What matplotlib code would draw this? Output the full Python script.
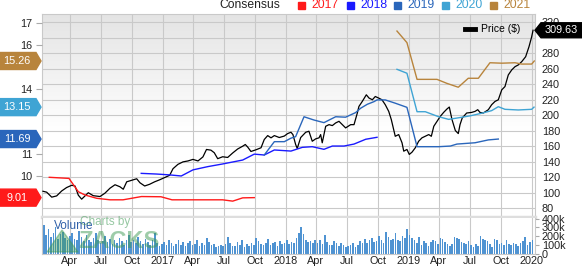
import numpy as np
import pandas as pd
import matplotlib
matplotlib.use('Agg')
import matplotlib.pyplot as plt
import matplotlib.dates as mdates
from matplotlib.patches import Polygon, Rectangle
from matplotlib.lines import Line2D

plt.rcParams['font.family'] = ['Liberation Sans', 'DejaVu Sans']

# time values are years since 2016-01-01
price_t = [0.031, 0.061, 0.102, 0.142, 0.183, 0.223, 0.264, 0.291, 0.318, 0.345,
           0.372, 0.399, 0.439, 0.494, 0.534, 0.575, 0.616, 0.656, 0.683, 0.711,
           0.751, 0.792, 0.819, 0.857, 0.897, 0.938, 0.979, 1.019, 1.060, 1.087,
           1.127, 1.168, 1.209, 1.249, 1.290, 1.330, 1.359, 1.395, 1.422, 1.450,
           1.490, 1.531, 1.572, 1.612, 1.653, 1.674, 1.693, 1.720, 1.761, 1.802,
           1.828, 1.856, 1.883, 1.910, 1.950, 1.991, 2.018, 2.045, 2.061, 2.083,
           2.096, 2.124, 2.165, 2.191, 2.218, 2.246, 2.273, 2.286, 2.299, 2.327,
           2.354, 2.381, 2.408, 2.435, 2.462, 2.489, 2.530, 2.557, 2.584, 2.597,
           2.624, 2.657, 2.679, 2.706, 2.730, 2.757, 2.784, 2.811, 2.839, 2.860,
           2.879, 2.892, 2.920, 2.947, 2.961, 2.987, 3.006, 3.028, 3.055, 3.082,
           3.109, 3.136, 3.164, 3.185, 3.205, 3.231, 3.258, 3.285, 3.312, 3.331,
           3.353, 3.380, 3.404, 3.418, 3.436, 3.472, 3.513, 3.540, 3.562, 3.580,
           3.607, 3.648, 3.675, 3.702, 3.729, 3.757, 3.783, 3.810, 3.838, 3.865,
           3.891, 3.919, 3.951, 3.978, 4.000, 4.011]
price = [102.0, 100.8, 94.4, 96.0, 102.4, 106.8, 109.7, 108.8, 96.9, 91.8,
         96.0, 100.1, 96.3, 95.2, 99.5, 105.9, 110.4, 107.8, 104.6, 114.2,
         116.1, 118.1, 112.9, 108.8, 111.0, 114.2, 116.8, 119.6, 122.6, 131.1,
         136.7, 139.9, 141.1, 143.1, 141.1, 146.3, 155.9, 155.0, 151.7, 144.0,
         146.5, 145.6, 151.4, 156.5, 160.1, 162.3, 159.1, 153.3, 155.5, 158.1,
         168.7, 173.8, 170.9, 173.8, 171.3, 173.2, 176.4, 178.1, 175.1, 162.3,
         157.2, 171.3, 178.1, 179.4, 166.5, 169.6, 170.9, 175.1, 164.5, 185.8,
         187.9, 186.7, 190.1, 192.2, 187.9, 183.7, 187.9, 187.9, 202.9, 211.4,
         217.8, 226.4, 222.2, 220.0, 224.2, 222.2, 220.0, 213.6, 205.0, 194.4,
         181.5, 172.9, 175.1, 164.5, 153.7, 155.9, 149.5, 152.4, 158.1, 166.5,
         170.9, 172.9, 175.1, 172.9, 185.8, 192.2, 198.6, 203.7, 208.1, 210.6,
         194.4, 180.3, 176.4, 187.9, 196.5, 202.9, 203.7, 205.0, 207.2, 203.7,
         202.9, 207.2, 213.6, 217.8, 220.0, 232.8, 237.0, 252.0, 258.5, 262.7,
         264.9, 269.1, 275.5, 288.3, 301.2, 309.63]

eps17_t = [0.082, 0.242, 0.318, 0.372, 0.467, 0.575, 0.681, 0.831, 0.989, 1.079,
           1.363, 1.490, 1.572, 1.653, 1.747]
eps17 = [9.94, 9.89, 9.28, 9.13, 8.98, 8.91, 8.91, 9.06, 9.05, 8.91,
         8.91, 8.91, 8.85, 9.00, 9.01]

eps18_t = [0.829, 0.951, 1.060, 1.154, 1.249, 1.371, 1.490, 1.653, 1.747, 1.828,
           1.910, 2.045, 2.137, 2.218, 2.313, 2.381, 2.476, 2.557, 2.652, 2.744]
eps18 = [10.12, 10.09, 10.05, 10.00, 10.28, 10.43, 10.55, 10.73, 11.00, 10.96,
         11.19, 11.14, 11.31, 11.34, 11.22, 11.37, 11.37, 11.46, 11.68, 11.77]

eps19_t = [1.828, 1.910, 1.991, 2.045, 2.083, 2.151, 2.232, 2.313, 2.408, 2.489,
           2.570, 2.611, 2.665, 2.719, 2.744, 2.811, 2.892, 2.987, 3.069, 3.245,
           3.340, 3.393, 3.540, 3.648, 3.729]
eps19 = [10.96, 11.57, 11.57, 11.73, 11.80, 12.71, 12.56, 12.44, 12.71, 12.69,
         12.90, 13.10, 13.28, 13.40, 13.48, 13.48, 13.33, 13.14, 11.34, 11.34,
         11.37, 11.46, 11.52, 11.65, 11.69]

eps20_t = [2.906, 2.987, 3.069, 3.136, 3.245, 3.326, 3.393, 3.499, 3.594, 3.675,
           3.729, 3.783, 3.891, 4.000, 4.019]
eps20 = [14.88, 14.70, 12.94, 12.94, 12.71, 12.59, 12.65, 12.75, 12.87, 12.99,
         13.17, 13.05, 13.02, 13.05, 13.15]

eps21_t = [2.906, 2.987, 3.069, 3.231, 3.310, 3.404, 3.485, 3.567, 3.661, 3.757,
           3.865, 3.919, 4.000, 4.021]
eps21 = [16.63, 16.10, 14.42, 14.42, 14.24, 14.06, 14.47, 14.47, 15.18, 15.16,
         15.18, 15.12, 15.12, 15.26]

# weekly volume in thousands, first week ending 2016-01-08
volume = [260, 330, 210, 280, 190, 240, 300, 170, 220, 250, 180, 160, 200,
          230, 170, 150, 260, 190, 140, 210, 160, 130, 180, 240, 150, 120,
          140, 200, 130, 170, 110, 150, 120, 180, 140, 100, 160, 210, 130,
          150, 120, 190, 140, 110, 170, 130, 100, 150, 240, 120, 90, 110,
          130, 100, 150, 120, 90, 110, 160, 100, 130, 85, 120, 140, 95,
          110, 150, 90, 120, 100, 180, 130, 95, 110, 75, 90, 100, 85,
          110, 190, 120, 90, 85, 130, 100, 150, 80, 110, 90, 120, 95,
          180, 140, 110, 95, 120, 170, 100, 115, 130, 90, 140, 105, 125,
          150, 110, 135, 120, 180, 240, 300, 220, 160, 130, 140, 115, 150,
          120, 160, 110, 210, 130, 95, 100, 140, 115, 90, 125, 100, 80,
          85, 95, 120, 75, 100, 145, 115, 170, 120, 150, 180, 130, 140,
          200, 160, 120, 245, 190, 150, 170, 230, 150, 140, 200, 175, 280,
          210, 180, 150, 120, 190, 100, 140, 120, 90, 130, 160, 140, 110,
          175, 165, 130, 110, 90, 105, 190, 180, 170, 130, 120, 110, 145,
          100, 80, 110, 85, 200, 170, 160, 140, 105, 80, 170, 150, 110,
          120, 100, 150, 110, 95, 120, 105, 90, 115, 140, 185, 100, 130,
          150]

years = ['2017', '2018', '2019', '2020', '2021']
colors = ['#ff1a1a', '#1a1aff', '#2a66bb', '#3fa4d4', '#b8843c']
last_eps = [9.01, None, 11.69, 13.15, 15.26]

base = mdates.date2num(pd.Timestamp('2016-01-01'))


def to_num(t):
    return base + np.asarray(t) * 365.25


W, H = 582, 266
fig = plt.figure(figsize=(W / 100, H / 100), dpi=100)
ax = fig.add_axes([42 / W, 1 - 217 / H, 493 / W, 203 / H])
axv = fig.add_axes([42 / W, 1 - 253.5 / H, 493 / W, 35.5 / H])
axe = ax.twinx()

xlim = (to_num(0.023), to_num(4.027))
quarters = pd.date_range('2016-04-01', '2020-01-01', freq='QS')
qlabels = [str(d.year) if d.month == 1 else d.strftime('%b') for d in quarters]

# background gradient in main panel: grey at top, white from the middle down
grad = np.linspace(0, 1, 200).reshape(-1, 1)
grad = np.clip((grad - 0.42) / 0.58, 0, 1)
cmap = matplotlib.colors.LinearSegmentedColormap.from_list('g', ['#ffffff', '#e4e4e4'])
ax.imshow(grad, extent=[0, 1, 0, 1], transform=ax.transAxes, aspect='auto',
          cmap=cmap, origin='lower', zorder=0)

grid_c = '#c9c9c9'
ax.plot(to_num(price_t), price, color='black', lw=0.9, zorder=3)
ax.set_xlim(xlim)
ax.set_ylim(68.8, 330.6)
pticks = np.arange(80, 321, 20)
ax.set_yticks(pticks)
ax.set_yticklabels(['' if p == 300 else str(p) for p in pticks])
ax.yaxis.tick_right()
ax.set_xticks(mdates.date2num(quarters))
ax.set_xticklabels([])
ax.grid(True, color=grid_c, lw=0.8)
ax.set_axisbelow(True)
ax.tick_params(axis='x', length=0)
ax.tick_params(axis='y', length=0, labelsize=7.8, labelcolor='#222222', pad=5)
for s in ['top', 'left', 'right']:
    ax.spines[s].set_color(grid_c)
ax.spines['bottom'].set_color('#dedede')
ax.spines['bottom'].set_linewidth(2.5)

eps_t = [eps17_t, eps18_t, eps19_t, eps20_t, eps21_t]
eps_v = [eps17, eps18, eps19, eps20, eps21]
for t, v, c in zip(eps_t, eps_v, colors):
    axe.plot(to_num(t), v, color=c, lw=1.0, zorder=2)
axe.set_xlim(xlim)
axe.set_ylim(8.124, 17.41)
axe.yaxis.tick_left()
axe.set_yticks([10, 11, 14, 16, 17])
axe.tick_params(axis='y', length=4, color='#aaaaaa', labelsize=7.8,
                labelcolor='#222222', pad=3)
for s in axe.spines.values():
    s.set_visible(False)

leg = ax.legend([Line2D([0], [0], color='black', lw=3.5)], ['Price ($)'],
                loc='upper right', bbox_to_anchor=(0.985, 0.985), frameon=False,
                fontsize=7.5, handlelength=0.9, handletextpad=0.6, borderpad=0.2)
leg.set_zorder(5)

# volume panel
vol_dates = pd.date_range('2016-01-08', periods=len(volume), freq='7D')
axv.bar(mdates.date2num(vol_dates), volume, width=4.8, color='#4f93d2', zorder=2)
axv.set_xlim(xlim)
axv.set_ylim(0, 408)
axv.yaxis.tick_right()
axv.set_yticks([0, 100, 200, 300, 400])
axv.set_yticklabels(['0', '100k', '200k', '300k', '400k'])
axv.set_xticks(mdates.date2num(quarters))
axv.set_xticklabels(qlabels)
axv.grid(True, axis='x', color=grid_c, lw=0.8)
axv.set_axisbelow(True)
axv.tick_params(axis='x', length=0, labelsize=7.8, labelcolor='#222222', pad=2)
axv.tick_params(axis='y', length=3, color='#aaaaaa', labelsize=7.8,
                labelcolor='#222222', pad=2)
axv.spines['top'].set_visible(False)
for s in ['left', 'right', 'bottom']:
    axv.spines[s].set_color(grid_c)
axv.text(0.024, 0.68, 'Volume', transform=axv.transAxes, fontsize=8.5,
         color='#2f5fa8', zorder=4)

# watermark
fig.text(80 / W, 1 - 222 / H, 'Charts by', fontsize=8.5, color='#3f9a55',
         alpha=0.55, va='center')
fig.text(78 / W, 1 - 241.5 / H, 'ZACKS', fontsize=17, fontweight='bold',
         color='#3f9a55', alpha=0.5, va='center')
fig.patches.append(Polygon([(47 / W, 1 - 252 / H), (62 / W, 1 - 230 / H),
                            (78 / W, 1 - 252 / H)], closed=True,
                           transform=fig.transFigure, color='#3f9a55', alpha=0.45))

# top consensus legend
fig.text(219 / W, 1 - 5.5 / H, 'Consensus', fontsize=8.7, color='#222222', va='center')
sq_x = [298, 347, 394, 442, 490]
for x0, yr, c in zip(sq_x, years, colors):
    fig.patches.append(Rectangle((x0 / W, 1 - 9 / H), 7 / W, 7 / H,
                                 transform=fig.transFigure, color=c))
    fig.text((x0 + 13) / W, 1 - 5.5 / H, yr, fontsize=8.7, color=c, va='center')


def px_y(axis, v):
    return H - axis.transData.transform((xlim[0], v))[1]


def tag(points, color, text, tx, ty):
    pts = [(x / W, 1 - y / H) for x, y in points]
    fig.patches.append(Polygon(pts, closed=True, transform=fig.transFigure,
                               color=color, zorder=10))
    fig.text(tx / W, 1 - ty / H, text, fontsize=7.8, color='white',
             ha='center', va='center', zorder=11)


for v, c in zip(last_eps, colors):
    if v is None:
        continue
    y = px_y(axe, v)
    tag([(0, y - 8.5), (36, y - 8.5), (41, y), (36, y + 8.5), (0, y + 8.5)],
        c, f'{v:.2f}', 17, y)

yp = px_y(ax, price[-1])
tag([(535, yp), (541, yp - 7.5), (582, yp - 7.5), (582, yp + 7.5), (541, yp + 7.5)],
    'black', f'{price[-1]:.2f}', 561, yp)

fig.savefig('out.png', dpi=100)
